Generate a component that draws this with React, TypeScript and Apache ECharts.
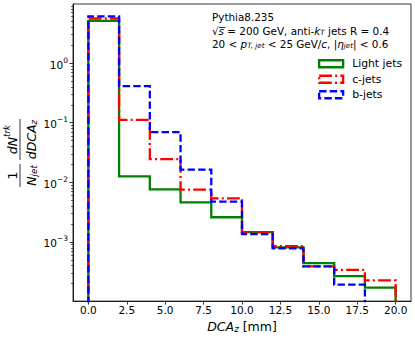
import React, { useEffect, useRef } from "react";
import * as echarts from "echarts";

// ---- data ----
const binEdges = [0, 2, 4, 6, 8, 10, 12, 14, 16, 18, 20];
const lightJets = [5.1, 0.0126, 0.0076, 0.0046, 0.0026, 0.00146, 0.00081, 0.000442, 0.000268, 0.000171];
const cJets = [5.6, 0.112, 0.0246, 0.00755, 0.0054, 0.00146, 0.00085, 0.00039, 0.00034, 0.000227];
const bJets = [6.1, 0.41, 0.0697, 0.0163, 0.00475, 0.00135, 0.00078, 0.00039, 0.000192, 0];
const seriesNames = ["Light jets", "c-jets", "b-jets"];
const xTickValues = [0, 2.5, 5, 7.5, 10, 12.5, 15, 17.5, 20];
const yMajorTicks = [0.001, 0.01, 0.1, 1];
const yMinorTicks: number[] = [];
for (let e = -4; e <= 0; e++) {
  for (let m = 2; m <= 9; m++) yMinorTicks.push(m * Math.pow(10, e));
}

const X_MIN = -1;
const X_MAX = 21;
const Y_MIN = 1.02e-4;
const Y_MAX = 9.8;
const FLOOR = 1e-6;

const FONT = "DejaVu Sans";
const GREEN = "#008000";
const RED = "#ff0000";
const BLUE = "#0000ff";
const LW = 2.3;
const DASHDOT = [12.8, 3.2, 2, 3.2];
const DASHED = [7.4, 3.2];

function stepPoints(values: number[]) {
  const pts: number[][] = [[binEdges[0], FLOOR]];
  values.forEach((v, i) => {
    const y = v > 0 ? v : FLOOR;
    pts.push([binEdges[i], y], [binEdges[i + 1], y]);
  });
  pts.push([binEdges[binEdges.length - 1], FLOOR]);
  return pts;
}

const mathRich = (size: number) => ({
  r: { fontSize: size, fontFamily: FONT, fill: "#000", color: "#000", lineHeight: size + 4, verticalAlign: "bottom" },
  i: { fontSize: size, fontFamily: FONT, fontStyle: "italic", fill: "#000", color: "#000", lineHeight: size + 4, verticalAlign: "bottom" },
  sub: { fontSize: size * 0.7, fontFamily: FONT, fontStyle: "italic", fill: "#000", color: "#000", lineHeight: 7, verticalAlign: "bottom" },
  sup: { fontSize: size * 0.7, fontFamily: FONT, fontStyle: "italic", fill: "#000", color: "#000", lineHeight: 7, verticalAlign: "top" },
});

export default function App() {
  const ref = useRef<HTMLDivElement>(null);
  useEffect(() => {
    if (!ref.current) return;
    const chart = echarts.init(ref.current, null, { renderer: "svg" });
    const axisColor = "#000";
    const option: any = {
      animation: false,
      backgroundColor: "#fff",
      textStyle: { fontFamily: FONT },
      grid: { left: 73, right: 4, top: 4, bottom: 35, show: true, borderColor: "#000", borderWidth: 0.8, backgroundColor: "transparent" },
      xAxis: {
        type: "value",
        min: X_MIN,
        max: X_MAX,
        axisLine: { show: true, onZero: false, lineStyle: { color: axisColor, width: 0.8 } },
        axisTick: { show: true, length: 3.5, customValues: xTickValues, lineStyle: { color: axisColor, width: 0.8 } },
        axisLabel: {
          customValues: xTickValues,
          formatter: (v: number) => v.toFixed(1),
          fontSize: 10.5,
          fontFamily: FONT,
          color: "#000",
          margin: 3,
        },
        splitLine: { show: false },
        name: "{i|DCA}{sub|z}{r| [mm]}",
        nameLocation: "middle",
        nameGap: 15,
        nameTextStyle: { rich: mathRich(12.5) },
      },
      yAxis: [
        {
          type: "log",
          logBase: 10,
          min: Y_MIN,
          max: Y_MAX,
          position: "left",
          axisLine: { show: true, onZero: false, lineStyle: { color: axisColor, width: 0.8 } },
          axisTick: { show: true, length: 3.5, customValues: yMajorTicks, lineStyle: { color: axisColor, width: 0.8 } },
          axisLabel: {
            customValues: yMajorTicks,
            margin: 5,
            formatter: (v: number) => {
              const e = Math.round(Math.log10(v));
              return `{b|10}{s|${e < 0 ? "\u2212" + -e : e}}`;
            },
            rich: {
              b: { fontSize: 10.5, fontFamily: FONT, color: "#000", lineHeight: 14, verticalAlign: "bottom" },
              s: { fontSize: 7.5, fontFamily: FONT, color: "#000", lineHeight: 7, verticalAlign: "top" },
            },
          },
          splitLine: { show: false },
        },
        {
          type: "log",
          logBase: 10,
          min: Y_MIN,
          max: Y_MAX,
          position: "left",
          offset: 0,
          axisLine: { show: false, onZero: false },
          axisTick: { show: true, length: 2, customValues: yMinorTicks, lineStyle: { color: axisColor, width: 0.6 } },
          axisLabel: { show: false },
          splitLine: { show: false },
        },
      ],
      legend: {
        orient: "vertical",
        left: 318,
        top: 56,
        padding: 0,
        itemGap: 0,
        itemWidth: 24,
        itemHeight: 7,
        icon: "rect",
        textStyle: { fontSize: 10.8, fontFamily: FONT, color: "#000", lineHeight: 15.5, padding: [0, 0, 0, 4] },
        data: [
          { name: seriesNames[0], itemStyle: { color: "transparent", borderColor: GREEN, borderWidth: LW } },
          { name: seriesNames[1], itemStyle: { color: "transparent", borderColor: RED, borderWidth: LW, borderType: DASHDOT } },
          { name: seriesNames[2], itemStyle: { color: "transparent", borderColor: BLUE, borderWidth: LW, borderType: DASHED } },
        ],
      },
      series: [
        { name: seriesNames[0], type: "line", data: stepPoints(lightJets), color: GREEN },
        { name: seriesNames[1], type: "line", data: stepPoints(cJets), color: RED, lineStyle: { type: DASHDOT } },
        { name: seriesNames[2], type: "line", data: stepPoints(bJets), color: BLUE, lineStyle: { type: DASHED } },
      ].map((s: any) => ({
        ...s,
        showSymbol: false,
        symbol: "none",
        clip: true,
        yAxisIndex: 0,
        lineStyle: { width: LW, color: s.color, cap: "butt", join: "miter", ...(s.lineStyle || {}) },
        emphasis: { disabled: true },
      })),
      graphic: [
        {
          type: "text",
          left: 212,
          top: 12,
          style: {
            text: [
              "{r|Pythia8.235}",
              "{r|\u221A}{i|s}{r| = 200 GeV, anti-}{i|k}{sub|T}{r| jets R = 0.4}",
              "{r|20 < }{i|p}{sub|T, jet}{r| < 25 GeV/}{i|c}{r|, |}{i|\u03B7}{sub|jet}{r|| < 0.6}",
            ].join("\n"),
            rich: {
              r: { fontSize: 10.4, fontFamily: FONT, fill: "#000", lineHeight: 13.6, verticalAlign: "bottom" },
              i: { fontSize: 10.4, fontFamily: FONT, fontStyle: "italic", fill: "#000", lineHeight: 13.6, verticalAlign: "bottom" },
              sub: { fontSize: 7.2, fontFamily: FONT, fontStyle: "italic", fill: "#000", lineHeight: 6, verticalAlign: "bottom" },
            },
          },
        },
        {
          type: "line",
          shape: { x1: 219, y1: 27.5, x2: 225.5, y2: 27.5 },
          style: { stroke: "#000", lineWidth: 0.8 },
        },
        {
          type: "group",
          x: 20,
          y: 155,
          rotation: Math.PI / 2,
          children: [
            { type: "line", shape: { x1: -32, y1: 0, x2: -9, y2: 0 }, style: { stroke: "#000", lineWidth: 0.8 } },
            { type: "text", x: -20.5, y: -1, style: { text: "1", fontSize: 12.5, fontFamily: FONT, fill: "#000", align: "center", verticalAlign: "bottom" } },
            { type: "text", x: -20.5, y: 1.5, style: { text: "{i|N}{sub|jet}", rich: mathRich(12.5), align: "center", verticalAlign: "top" } },
            { type: "line", shape: { x1: -5, y1: 0, x2: 36, y2: 0 }, style: { stroke: "#000", lineWidth: 0.8 } },
            { type: "text", x: 15.5, y: -1, style: { text: "{i|dN}{sup|trk}", rich: mathRich(12.5), align: "center", verticalAlign: "bottom" } },
            { type: "text", x: 15.5, y: 1.5, style: { text: "{i|dDCA}{sub|z}", rich: mathRich(12.5), align: "center", verticalAlign: "top" } },
          ],
        },
      ],
    };
    chart.setOption(option);
    return () => chart.dispose();
  }, []);
  return <div ref={ref} style={{ position: "fixed", left: 0, top: 0, width: 415, height: 338 }} />;
}
